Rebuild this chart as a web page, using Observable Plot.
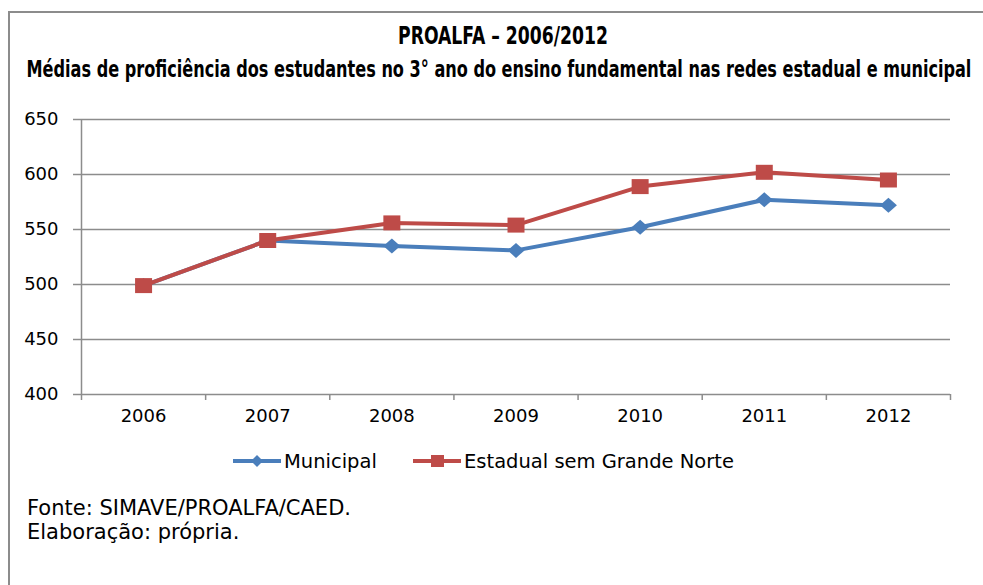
<!DOCTYPE html>
<html>
<head>
<meta charset="utf-8">
<script src="https://cdn.jsdelivr.net/npm/d3@7"></script>
<script src="https://cdn.jsdelivr.net/npm/@observablehq/plot@0.6"></script>
<style>
  html, body { margin: 0; padding: 0; background: #fff; }
  #page { position: relative; width: 983px; height: 585px; overflow: hidden; background: #fff; }
  #frame { position: absolute; left: 8px; top: 11px; width: 1000px; height: 600px;
           border-left: 2px solid #8c8c8c; border-top: 2px solid #8c8c8c; }
  #header { position: absolute; left: 0; top: 0; }
  #chart { position: absolute; left: 0; top: 100px; }
  .leg { position: absolute; top: 448px; height: 26px; display: flex; align-items: center;
         font-family: "DejaVu Sans", sans-serif; font-size: 19.5px; color: #000; white-space: nowrap; }
  #footer { position: absolute; left: 27px; top: 496px; font-family: "DejaVu Sans", sans-serif;
            font-size: 21px; line-height: 24px; color: #000; white-space: nowrap; }
</style>
</head>
<body>
<div id="page">
  <div id="frame"></div>
  <svg id="header" width="983" height="100">
    <text id="t1" x="503" y="44" text-anchor="middle" font-family="DejaVu Sans Condensed, sans-serif"
          font-weight="bold" font-size="20"></text>
    <text id="t2" x="499" y="77" text-anchor="middle" font-family="DejaVu Sans Condensed, sans-serif"
          font-weight="bold" font-size="20"></text>
  </svg>
  <div id="chart"></div>
  <div class="leg" id="leg1" style="left:233px"></div>
  <div class="leg" id="leg2" style="left:413px"></div>
  <div id="footer"></div>
</div>
<script>
// ---- data ----
const title = "PROALFA – 2006/2012";
const subtitle = "Médias de proficiência dos estudantes no 3° ano do ensino fundamental nas redes estadual e municipal";
const years = [2006, 2007, 2008, 2009, 2010, 2011, 2012];
const municipal = [499, 540, 535, 531, 552, 577, 572];
const estadual = [499, 540, 556, 554, 589, 602, 595];
const seriesNames = ["Municipal", "Estadual sem Grande Norte"];
const yTicks = [400, 450, 500, 550, 600, 650];
const footerLines = ["Fonte: SIMAVE/PROALFA/CAED.", "Elaboração: própria."];

const blue = "#4A7EBB", red = "#BE4B48", gray = "#8c8c8c";

// fit header texts to the reference widths, then stretch vertically (condensed look)
function fitText(id, text, targetWidth, vscale) {
  const el = document.getElementById(id);
  el.textContent = text;
  const w = el.getComputedTextLength();
  const fs = parseFloat(el.getAttribute("font-size"));
  if (w > 0) el.setAttribute("font-size", (fs * targetWidth / w).toFixed(2));
  const y = parseFloat(el.getAttribute("y"));
  el.setAttribute("transform", `translate(0,${y}) scale(1,${vscale}) translate(0,${-y})`);
}
fitText("t1", title, 210, 1.3);
fitText("t2", subtitle, 945, 1.3);

const munRows = years.map((y, i) => ({year: y, value: municipal[i], series: seriesNames[0]}));
const estRows = years.map((y, i) => ({year: y, value: estadual[i], series: seriesNames[1]}));

const xDomain = [years[0] - 0.5, years[years.length - 1] + 0.5];
const bounds = d3.range(years.length + 1).map(i => years[0] - 0.5 + i);

const diamond = {draw(ctx) { ctx.moveTo(0, -7.5); ctx.lineTo(8.5, 0); ctx.lineTo(0, 7.5); ctx.lineTo(-8.5, 0); ctx.closePath(); }};
const square = {draw(ctx) { ctx.moveTo(-8.5, -7.5); ctx.lineTo(8.5, -7.5); ctx.lineTo(8.5, 7.5); ctx.lineTo(-8.5, 7.5); ctx.closePath(); }};

const chart = Plot.plot({
  width: 983, height: 340,
  marginTop: 19, marginBottom: 46, marginLeft: 81, marginRight: 33,
  style: {fontFamily: "DejaVu Sans, sans-serif", fontSize: "18px", color: "#000", background: "transparent"},
  x: {type: "linear", domain: xDomain, label: null},
  y: {domain: [yTicks[0], yTicks[yTicks.length - 1]], label: null},
  marks: [
    Plot.gridY(yTicks.slice(1), {stroke: gray, strokeOpacity: 1, strokeWidth: 1.5}),
    Plot.axisY({ticks: yTicks, tickSize: 8, tickPadding: 15, stroke: gray, strokeWidth: 1.5, fill: "#000", fontSize: 18, tickFormat: d => String(d), label: null}),
    Plot.ruleX([xDomain[0]], {stroke: gray, strokeWidth: 1.5}),
    Plot.ruleY([yTicks[0]], {stroke: gray, strokeWidth: 1.5}),
    Plot.axisX({ticks: bounds, tickSize: 6, stroke: gray, strokeWidth: 1.5, tickFormat: () => "", label: null}),
    Plot.axisX({ticks: years, tickSize: 0, tickPadding: 15, fill: "#000", fontSize: 18, tickFormat: d => String(d), label: null}),
    Plot.line(munRows, {x: "year", y: "value", stroke: blue, strokeWidth: 4}),
    Plot.dot(munRows, {x: "year", y: "value", symbol: diamond, fill: blue, stroke: "none"}),
    Plot.line(estRows, {x: "year", y: "value", stroke: red, strokeWidth: 4}),
    Plot.dot(estRows, {x: "year", y: "value", symbol: square, fill: red, stroke: "none"})
  ]
});
document.getElementById("chart").appendChild(chart);

// legend
function swatch(color, shape) {
  const s = d3.create("svg").attr("width", 48).attr("height", 20).style("margin-right", "3px");
  s.append("line").attr("x1", 0).attr("x2", 48).attr("y1", 10).attr("y2", 10).attr("stroke", color).attr("stroke-width", 4);
  if (shape === "diamond") s.append("path").attr("d", "M24,4L30,10L24,16L18,10Z").attr("fill", color);
  else s.append("rect").attr("x", 18).attr("y", 4).attr("width", 13).attr("height", 12).attr("fill", color);
  return s.node();
}
const l1 = document.getElementById("leg1");
l1.appendChild(swatch(blue, "diamond"));
l1.appendChild(document.createTextNode(seriesNames[0]));
const l2 = document.getElementById("leg2");
l2.appendChild(swatch(red, "square"));
l2.appendChild(document.createTextNode(seriesNames[1]));

document.getElementById("footer").innerHTML = footerLines.map(t => `<div>${t}</div>`).join("");
</script>
</body>
</html>
